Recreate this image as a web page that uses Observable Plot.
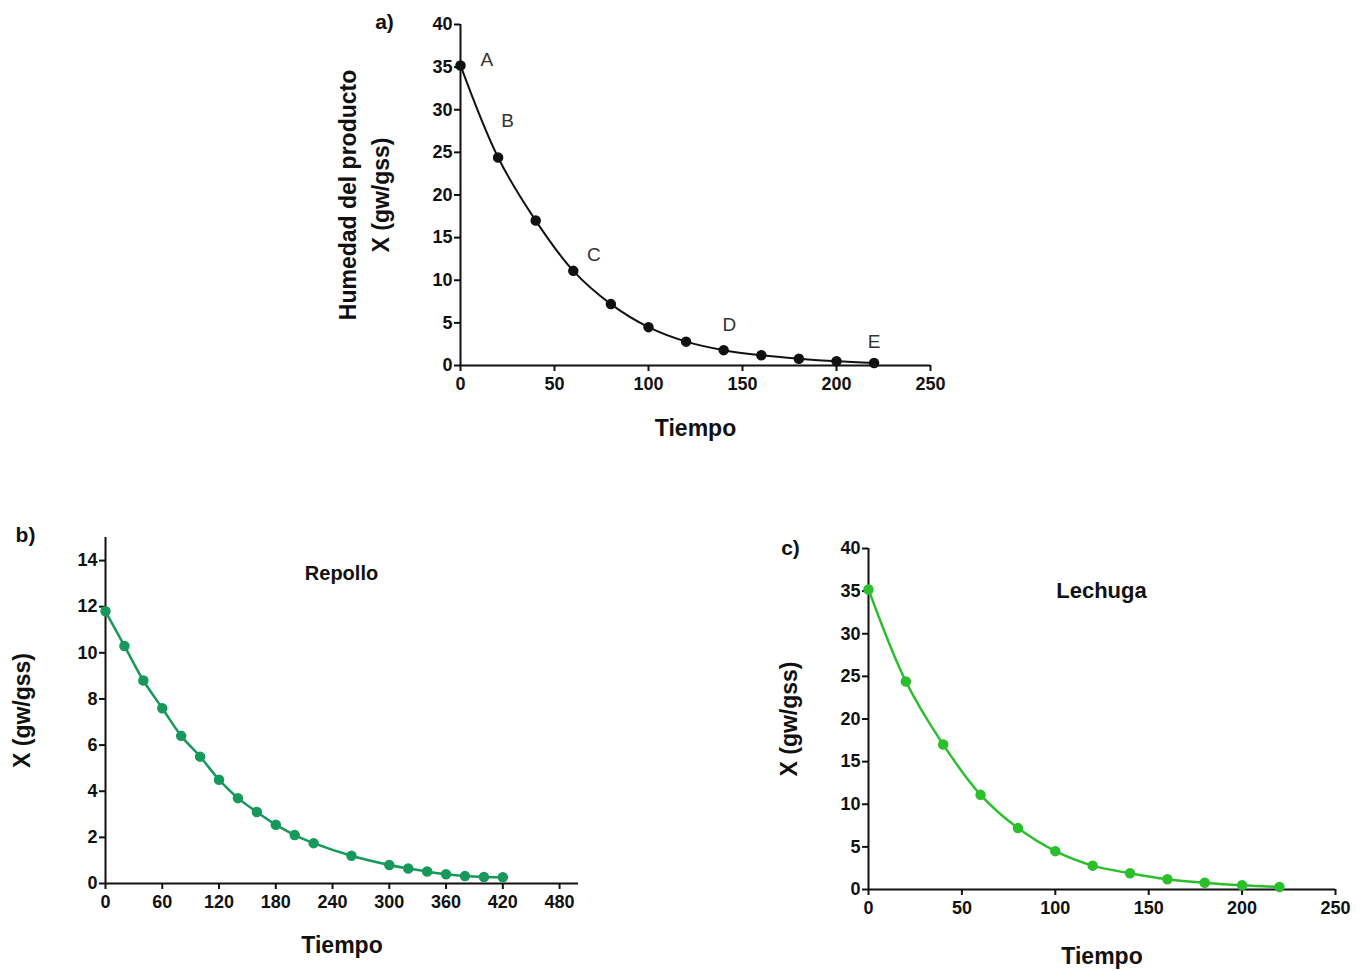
<!DOCTYPE html>
<html>
<head>
<meta charset="utf-8">
<script src="https://cdn.jsdelivr.net/npm/d3@7"></script>
<script src="https://cdn.jsdelivr.net/npm/@observablehq/plot@0.6"></script>
<style>
  html, body { margin: 0; padding: 0; background: #fff; }
  #wrap { position: relative; width: 1365px; height: 971px; overflow: hidden; font-family: "Liberation Sans", Arial, sans-serif; }
  #wrap > div { position: absolute; }
  svg { overflow: visible; }
</style>
</head>
<body>
<div id="wrap">
  <div id="pa" style="left:330px; top:0px;"></div>
  <div id="pb" style="left:0px; top:520px;"></div>
  <div id="pc" style="left:770px; top:530px;"></div>
</div>
<script>
// ---- Data ----
const timeA = [0, 20, 40, 60, 80, 100, 120, 140, 160, 180, 200, 220];
const moistA = [35.2, 24.4, 17.0, 11.1, 7.2, 4.5, 2.8, 1.8, 1.2, 0.8, 0.5, 0.3];

const stageLabels = ["A", "B", "C", "D", "E"];
const stageX = [14, 25, 71, 143, 220];
const stageY = [35.8, 28.7, 13.0, 4.8, 2.8];

const timeB = [0, 20, 40, 60, 80, 100, 120, 140, 160, 180, 200, 220, 260, 300, 320, 340, 360, 380, 400, 420];
const moistB = [11.8, 10.3, 8.8, 7.6, 6.4, 5.5, 4.5, 3.7, 3.1, 2.55, 2.1, 1.75, 1.2, 0.8, 0.65, 0.52, 0.4, 0.32, 0.28, 0.27];

const timeC = [0, 20, 40, 60, 80, 100, 120, 140, 160, 180, 200, 220];
const moistC = [35.2, 24.4, 17.0, 11.1, 7.2, 4.5, 2.8, 1.9, 1.2, 0.8, 0.5, 0.3];

const ticksA_x = [0, 50, 100, 150, 200, 250];
const ticksA_y = [0, 5, 10, 15, 20, 25, 30, 35, 40];
const ticksB_x = [0, 60, 120, 180, 240, 300, 360, 420, 480];
const ticksB_y = [0, 2, 4, 6, 8, 10, 12, 14];
const ticksC_x = [0, 50, 100, 150, 200, 250];
const ticksC_y = [0, 5, 10, 15, 20, 25, 30, 35, 40];

const colorA = "#111111";
const colorB = "#17995c";
const colorC = "#2bbf2b";

const toRows = (xs, ys) => xs.map((x, i) => ({x, y: ys[i]}));
const dataA = toRows(timeA, moistA);
const dataB = toRows(timeB, moistB);
const dataC = toRows(timeC, moistC);
const stages = stageLabels.map((t, i) => ({t, x: stageX[i], y: stageY[i]}));

const FONT = "Liberation Sans, Arial, sans-serif";

function axes(xt, yt) {
  return [
    Plot.axisX({ticks: xt, tickSize: 6, tickPadding: 6, strokeWidth: 2, label: null, fontSize: 18, fontWeight: "bold", fill: "#111"}),
    Plot.axisY({ticks: yt, tickSize: 6, tickPadding: 2, strokeWidth: 2, label: null, fontSize: 18, fontWeight: "bold", fill: "#111"}),
    Plot.ruleX([0], {stroke: "#111", strokeWidth: 2}),
    Plot.ruleY([0], {stroke: "#111", strokeWidth: 2})
  ];
}
const lab = {textAnchor: "middle", fontWeight: "bold", fill: "#111"};

// ---- Chart a ----
const a = Plot.plot({
  width: 640, height: 460,
  marginLeft: 130, marginRight: 40, marginTop: 24, marginBottom: 95,
  style: {fontFamily: FONT, background: "transparent", color: "#111"},
  x: {domain: [0, 250]},
  y: {domain: [0, 40]},
  marks: [
    ...axes(ticksA_x, ticksA_y),
    Plot.line(dataA, {x: "x", y: "y", curve: "catmull-rom", stroke: colorA, strokeWidth: 2}),
    Plot.dot(dataA, {x: "x", y: "y", r: 4.5, fill: colorA, stroke: colorA}),
    Plot.text(stages, {x: "x", y: "y", text: "t", fontSize: 19, fill: "#333"}),
    Plot.text(["Tiempo"], {...lab, frameAnchor: "bottom", dy: 70, fontSize: 23}),
    Plot.text(["Humedad del producto"], {...lab, frameAnchor: "left", dx: -112, rotate: -90, fontSize: 23}),
    Plot.text(["X (gw/gss)"], {...lab, frameAnchor: "left", dx: -79, rotate: -90, fontSize: 23}),
    Plot.text(["a)"], {...lab, frameAnchor: "top-left", dx: -76, dy: -10, fontSize: 21})
  ]
});
document.getElementById("pa").appendChild(a);

// ---- Chart b ----
const b = Plot.plot({
  width: 600, height: 451,
  marginLeft: 105, marginRight: 22, marginTop: 17, marginBottom: 88,
  style: {fontFamily: FONT, background: "transparent", color: "#111"},
  x: {domain: [0, 500]},
  y: {domain: [0, 15]},
  marks: [
    ...axes(ticksB_x, ticksB_y),
    Plot.line(dataB, {x: "x", y: "y", curve: "catmull-rom", stroke: colorB, strokeWidth: 2.5}),
    Plot.dot(dataB, {x: "x", y: "y", r: 4.5, fill: colorB, stroke: colorB}),
    Plot.text(["Repollo"], {...lab, frameAnchor: "top-left", dx: 236, dy: 28, fontSize: 20}),
    Plot.text(["Tiempo"], {...lab, frameAnchor: "bottom", dy: 69, fontSize: 23}),
    Plot.text(["X (gw/gss)"], {...lab, frameAnchor: "left", dx: -83, rotate: -90, fontSize: 23}),
    Plot.text(["b)"], {...lab, frameAnchor: "top-left", dx: -80, dy: -10, fontSize: 21})
  ]
});
document.getElementById("pb").appendChild(b);

// ---- Chart c ----
const c = Plot.plot({
  width: 595, height: 441,
  marginLeft: 98, marginRight: 30, marginTop: 18, marginBottom: 82,
  style: {fontFamily: FONT, background: "transparent", color: "#111"},
  x: {domain: [0, 250]},
  y: {domain: [0, 40]},
  marks: [
    ...axes(ticksC_x, ticksC_y),
    Plot.line(dataC, {x: "x", y: "y", curve: "catmull-rom", stroke: colorC, strokeWidth: 2.5}),
    Plot.dot(dataC, {x: "x", y: "y", r: 4.5, fill: colorC, stroke: colorC}),
    Plot.text(["Lechuga"], {...lab, frameAnchor: "top-left", dx: 233, dy: 34, fontSize: 22}),
    Plot.text(["Tiempo"], {...lab, frameAnchor: "bottom", dy: 74, fontSize: 23}),
    Plot.text(["X (gw/gss)"], {...lab, frameAnchor: "left", dx: -79, rotate: -90, fontSize: 23}),
    Plot.text(["c)"], {...lab, frameAnchor: "top-left", dx: -78, dy: -8, fontSize: 21})
  ]
});
document.getElementById("pc").appendChild(c);
</script>
</body>
</html>
